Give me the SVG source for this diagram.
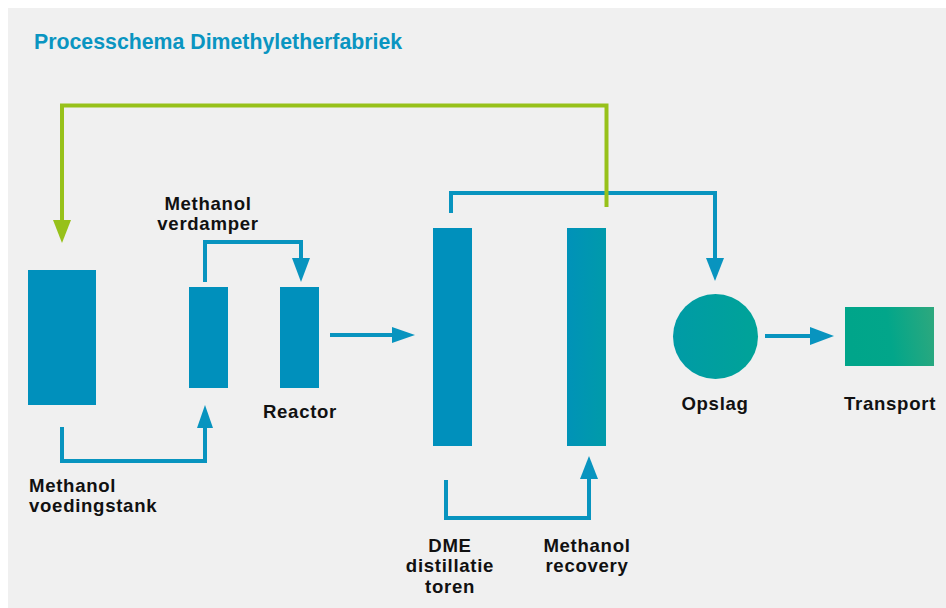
<svg xmlns="http://www.w3.org/2000/svg" width="946" height="608" viewBox="0 0 946 608">
  <style>
    .title { font-family: "Liberation Sans", Arial, sans-serif; font-weight: bold; font-size: 21.3px; fill: #0a95c1; }
    .label { font-family: "Liberation Sans", Arial, sans-serif; font-weight: bold; font-size: 18.6px; letter-spacing: 0.7px; fill: #111111; }
    .mid { text-anchor: middle; }
    .flow { fill: none; stroke: #0894bf; stroke-width: 4; }
    .recycle { fill: none; stroke: #97c11a; stroke-width: 4; }
    .head { fill: #0894bf; }
    .head-green { fill: #97c11a; }
  </style>
  <defs>
    <linearGradient id="tealGrad" x1="0" y1="0" x2="1" y2="0.15">
      <stop offset="0" stop-color="#0092b9"/>
      <stop offset="1" stop-color="#009aab"/>
    </linearGradient>
    <linearGradient id="circleGrad" x1="0" y1="0" x2="1" y2="0">
      <stop offset="0" stop-color="#009ba6"/>
      <stop offset="1" stop-color="#00a398"/>
    </linearGradient>
    <linearGradient id="truckGrad" x1="0" y1="0" x2="1" y2="-0.1">
      <stop offset="0" stop-color="#00a58a"/>
      <stop offset="0.45" stop-color="#02a68a"/>
      <stop offset="1" stop-color="#2fa87d"/>
    </linearGradient>
  </defs>

  <!-- panel -->
  <rect x="8" y="8" width="938" height="600" fill="#f0f0f0"/>

  <text class="title" x="34" y="49">Processchema Dimethyletherfabriek</text>

  <!-- process units -->
  <g id="voedingstank">
    <rect x="28" y="270" width="68" height="135" fill="#0090bc"/>
    <text class="label" x="29" y="492">Methanol</text>
    <text class="label" x="29" y="512">voedingstank</text>
  </g>
  <g id="verdamper">
    <rect x="189" y="287" width="39" height="101" fill="#0090bc"/>
    <text class="label mid" x="208" y="210">Methanol</text>
    <text class="label mid" x="208" y="230">verdamper</text>
  </g>
  <g id="reactor">
    <rect x="280" y="287" width="39" height="101" fill="#0090bc"/>
    <text class="label mid" x="300" y="418">Reactor</text>
  </g>
  <g id="dme-toren">
    <rect x="433" y="228" width="39" height="218" fill="#0090bc"/>
    <text class="label mid" x="450" y="552">DME</text>
    <text class="label mid" x="450" y="572">distillatie</text>
    <text class="label mid" x="450" y="593">toren</text>
  </g>
  <g id="methanol-recovery">
    <rect x="567" y="228" width="39" height="218" fill="url(#tealGrad)"/>
    <text class="label mid" x="587" y="552">Methanol</text>
    <text class="label mid" x="587" y="572">recovery</text>
  </g>
  <g id="opslag">
    <circle cx="715.5" cy="336.5" r="42.5" fill="url(#circleGrad)"/>
    <text class="label mid" x="715" y="410">Opslag</text>
  </g>
  <g id="transport">
    <rect x="845" y="307" width="89" height="59" fill="url(#truckGrad)"/>
    <text class="label mid" x="890" y="410">Transport</text>
  </g>

  <!-- connectors -->
  <g id="connectors">
    <!-- voedingstank -> verdamper -->
    <polyline class="flow" points="62,427 62,461 205,461 205,426"/>
    <polygon class="head" points="197,428 213,428 205,405"/>
    <!-- verdamper -> reactor -->
    <polyline class="flow" points="205,282 205,242 301,242 301,260"/>
    <polygon class="head" points="292,258 310,258 301,282"/>
    <!-- reactor -> DME toren -->
    <line class="flow" x1="330" y1="335" x2="394" y2="335"/>
    <polygon class="head" points="392,327 392,343 415,335"/>
    <!-- DME toren -> methanol recovery -->
    <polyline class="flow" points="446,480 446,518 589,518 589,477"/>
    <polygon class="head" points="580,479 598,479 589,456"/>
    <!-- DME toren top -> opslag -->
    <polyline class="flow" points="451,213 451,193 715,193 715,260"/>
    <polygon class="head" points="706,258 724,258 715,281"/>
    <!-- opslag -> transport -->
    <line class="flow" x1="765" y1="336" x2="812" y2="336"/>
    <polygon class="head" points="810,327 810,345 834,336"/>
    <!-- methanol recycle back to voedingstank -->
    <polyline class="recycle" points="606.5,207 606.5,105.5 62,105.5 62,222"/>
    <polygon class="head-green" points="53,220 71,220 62,243"/>
  </g>
</svg>
